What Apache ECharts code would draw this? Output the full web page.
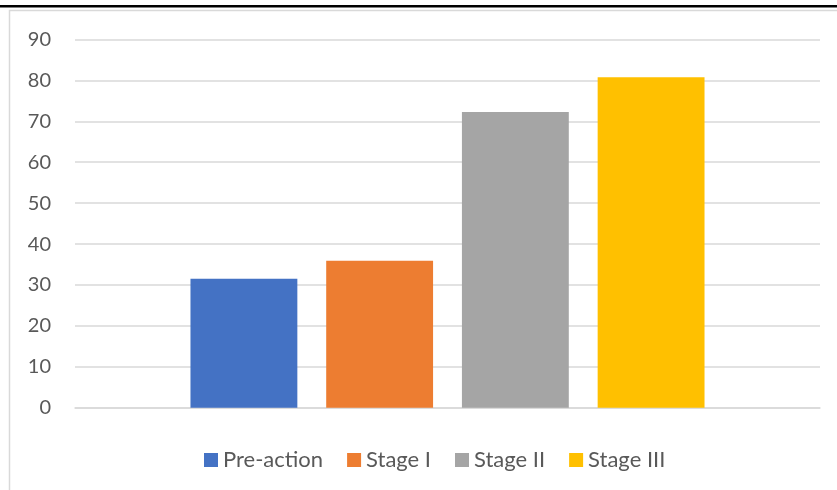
<!DOCTYPE html>
<html>
<head>
<meta charset="utf-8">
<script src="https://cdn.jsdelivr.net/npm/echarts@6/dist/echarts.min.js"></script>
<style>
html,body{margin:0;padding:0;background:#fff;}
#c{width:837px;height:490px;}
</style>
</head>
<body>
<div id="c"></div>
<script>
var seriesNames = ['Pre-action', 'Stage I', 'Stage II', 'Stage III'];
var seriesValues = [31.5, 35.9, 72.3, 80.8];
var seriesColors = ['#4472C4', '#ED7D31', '#A5A5A5', '#FFC000'];
var yTicks = [0, 10, 20, 30, 40, 50, 60, 70, 80, 90];

var chart = echarts.init(document.getElementById('c'), null, {renderer: 'canvas'});
var FONT = 'Lato';
var series = seriesNames.map(function (n, i) {
  return {
    name: n,
    type: 'bar',
    data: [seriesValues[i]],
    itemStyle: {color: seriesColors[i]},
    barGap: '27%',
    barCategoryGap: '31%'
  };
});
chart.setOption({
  animation: false,
  backgroundColor: '#fff',
  graphic: [
    {type: 'rect', shape: {x: 9.5, y: 10.5, width: 900, height: 600},
     style: {fill: 'none', stroke: '#d9d9d9', lineWidth: 1.5}, z: -1},
    {type: 'rect', shape: {x: 0, y: 5, width: 837, height: 2.5},
     style: {fill: '#000'}}
  ],
  grid: {left: 75, right: 17, top: 39.5, bottom: 82.3, containLabel: false},
  legend: {
    data: seriesNames,
    left: 204,
    top: 449,
    itemWidth: 14,
    itemHeight: 14,
    itemGap: 24,
    icon: 'rect',
    textStyle: {fontFamily: FONT, fontSize: 22, color: '#595959'},
    padding: 0
  },
  xAxis: {
    type: 'category',
    data: [''],
    axisLine: {lineStyle: {color: '#d9d9d9', width: 1.5}},
    axisTick: {show: false},
    axisLabel: {show: false}
  },
  yAxis: {
    type: 'value',
    min: yTicks[0],
    max: yTicks[yTicks.length - 1],
    interval: 10,
    axisLine: {show: false},
    axisTick: {show: false},
    axisLabel: {fontFamily: FONT, fontSize: 20, color: '#595959', margin: 24},
    splitLine: {lineStyle: {color: '#d9d9d9', width: 1.5}}
  },
  series: series
});
</script>
</body>
</html>
